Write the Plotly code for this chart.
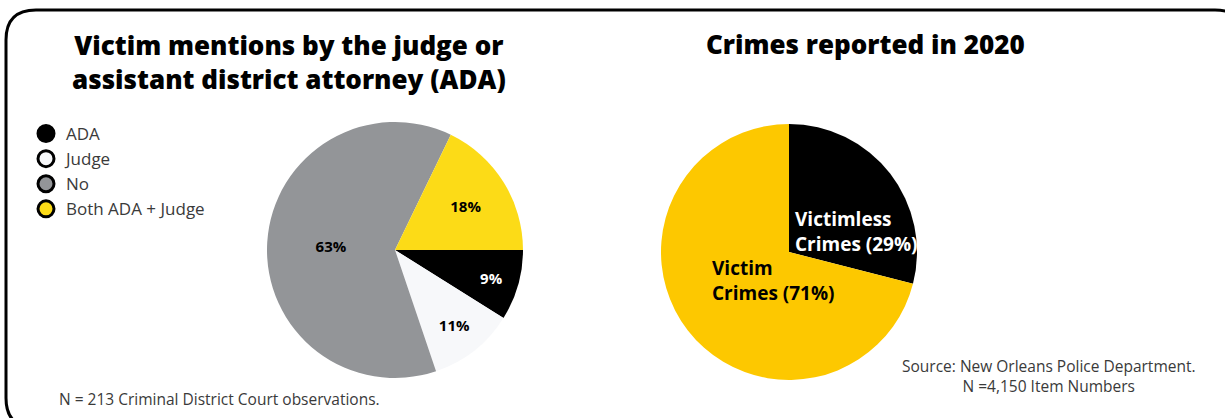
import plotly.graph_objects as go

W, H = 1225, 418

# left pie: victim mentions
mention_labels = ["ADA", "Judge", "No", "Both ADA + Judge"]
mention_values = [9, 11, 63, 18]
mention_colors = ["#000000", "#f7f8fa", "#939598", "#fcdb17"]

# right pie: crimes reported
crime_labels = ["Victimless Crimes", "Victim Crimes"]
crime_values = [29, 71]
crime_colors = ["#000000", "#fdc800"]


def px_x(x):
    return x / W


def px_y(y):
    return 1 - y / H


fig = go.Figure()

fig.add_trace(go.Pie(
    labels=mention_labels, values=mention_values, sort=False,
    direction="clockwise", rotation=90,
    marker=dict(colors=mention_colors, line=dict(width=0)),
    text=[f"{v}%" for v in mention_values], textinfo="text",
    textposition="inside", insidetextorientation="horizontal",
    insidetextfont=dict(family="Open Sans", size=15, weight="bold",
                        color=["white", "black", "black", "black"]),
    domain=dict(x=[px_x(395 - 128), px_x(395 + 128)],
                y=[px_y(250 + 128), px_y(250 - 128)]),
    showlegend=False, hoverinfo="label+percent",
))

fig.add_trace(go.Pie(
    labels=crime_labels, values=crime_values, sort=False,
    direction="clockwise", rotation=0,
    marker=dict(colors=crime_colors, line=dict(width=0)),
    textinfo="none",
    domain=dict(x=[px_x(789 - 128), px_x(789 + 128)],
                y=[px_y(252 + 128), px_y(252 - 128)]),
    showlegend=False, hoverinfo="label+percent",
))

# legend with round markers
for lab, col in zip(mention_labels, mention_colors):
    fig.add_trace(go.Scatter(
        x=[None], y=[None], mode="markers", name=lab,
        marker=dict(size=18, color=col, line=dict(color="black", width=3)),
    ))

# slice labels for the right pie, built from the data
crime_text = [f"{l.split()[0]}<br>{l.split()[1]} ({v}%)" for l, v in zip(crime_labels, crime_values)]
crime_label_pos = [(793, 231), (710, 280)]
crime_text_col = ["white", "black"]

# rounded border
x0, y0, x1, y1, r = 6, 10, 1245, 428, 30
path = (f"M {px_x(x0 + r)},{px_y(y0)} L {px_x(x1 - r)},{px_y(y0)} "
        f"Q {px_x(x1)},{px_y(y0)} {px_x(x1)},{px_y(y0 + r)} "
        f"L {px_x(x1)},{px_y(y1 - r)} Q {px_x(x1)},{px_y(y1)} {px_x(x1 - r)},{px_y(y1)} "
        f"L {px_x(x0 + r)},{px_y(y1)} Q {px_x(x0)},{px_y(y1)} {px_x(x0)},{px_y(y1 - r)} "
        f"L {px_x(x0)},{px_y(y0 + r)} Q {px_x(x0)},{px_y(y0)} {px_x(x0 + r)},{px_y(y0)} Z")

title_font = dict(family="Open Sans", size=26, weight=800, color="black")
annotations = [
    dict(text="Victim mentions by the judge or<br>assistant district attorney (ADA)",
         x=px_x(289), y=px_y(62), font=title_font, align="center"),
    dict(text="Crimes reported in 2020", x=px_x(865), y=px_y(44),
         font=title_font),
    dict(text="N = 213 Criminal District Court observations.",
         x=px_x(57), y=px_y(399), font=dict(size=15.5), xanchor="left"),
    dict(text="Source: New Orleans Police Department.<br>N =4,150 Item Numbers",
         x=px_x(1049), y=px_y(376), font=dict(size=15.5), align="center"),
]
for txt, (lx, ly), col in zip(crime_text, crime_label_pos, crime_text_col):
    annotations.append(dict(text=txt, x=px_x(lx), y=px_y(ly), xanchor="left", align="left",
                            font=dict(family="Open Sans", size=19, weight="bold", color=col)))
for a in annotations:
    a.setdefault("xanchor", "center")
    a.update(xref="paper", yref="paper", showarrow=False, yanchor="middle")

fig.update_layout(
    width=W, height=H, margin=dict(l=0, r=0, t=0, b=0),
    paper_bgcolor="white", plot_bgcolor="white",
    xaxis=dict(visible=False), yaxis=dict(visible=False),
    font=dict(family="Open Sans", color="#3a3a3a"),
    showlegend=True,
    legend=dict(x=px_x(26), y=px_y(116), xanchor="left", yanchor="top",
                font=dict(size=17, color="#3a3a3a"), tracegroupgap=0,
                bgcolor="rgba(0,0,0,0)"),
    shapes=[dict(type="path", xref="paper", yref="paper", path=path,
                 line=dict(color="black", width=3), layer="above")],
    annotations=annotations,
)

fig.write_html("out.html", config=dict(displayModeBar=False),
               post_script="document.body.style.margin='0';")
